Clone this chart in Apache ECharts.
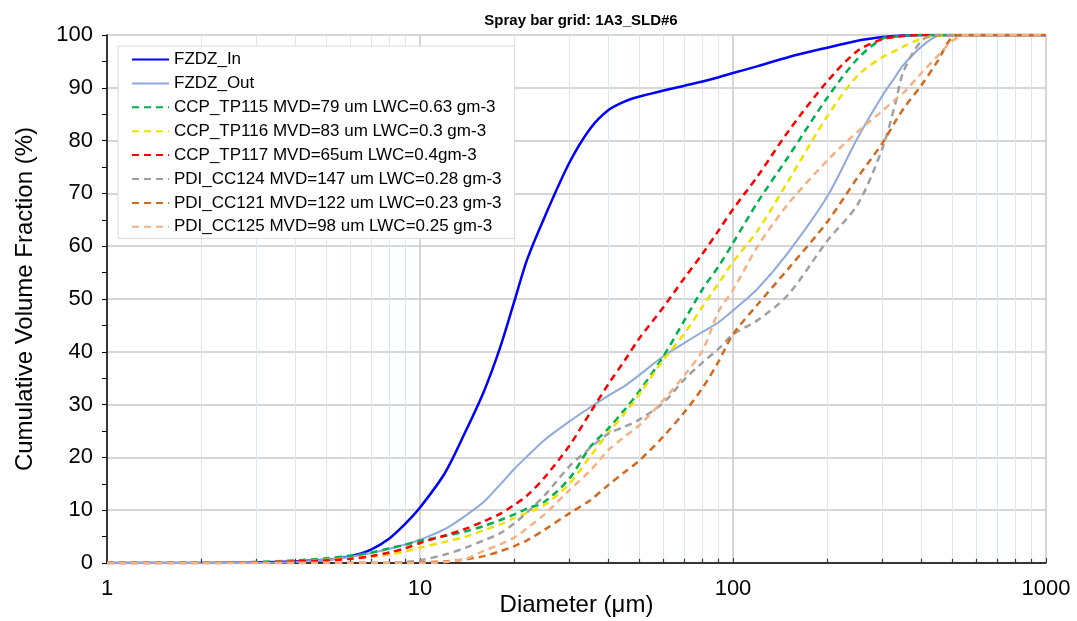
<!DOCTYPE html>
<html>
<head>
<meta charset="utf-8">
<script src="https://cdn.jsdelivr.net/npm/echarts@6/dist/echarts.min.js"></script>
<style>
html,body{margin:0;padding:0;background:#fff;}
#chart{width:1077px;height:621px;}
</style>
</head>
<body>
<div id="chart"></div>
<script>
// Diameters (um), shared by all series
const diameters = [1,2,3,4,5,6,7,8,9,10,12,14,16,18,20,22,25,30,35,40,45,50,60,70,80,90,100,120,150,200,250,300,330,350,400,450,500,550,600,700,1000];

const fzdzIn   = [0,0,0.1,0.3,0.6,1.3,2.6,4.7,7.5,10.5,17,25,32.5,40.7,49.5,57.5,65.5,75.8,82.3,85.8,87.4,88.3,89.5,90.4,91.2,92,92.8,94.1,95.8,97.6,98.9,99.6,99.8,99.9,100,100,100,100,100,100,100];
const fzdzOut  = [0,0,0,0.2,0.6,1.2,1.9,2.7,3.5,4.4,6.4,9,11.6,14.8,17.8,20.2,23.3,26.8,29.5,31.7,33.5,35.5,39.2,41.7,43.8,45.6,47.8,52,58.8,69.4,80.5,88.5,92.1,94.3,97.8,99.8,100,100,100,100,100];
const tp115    = [0,0.05,0.2,0.5,0.9,1.4,2.0,2.8,3.5,4.2,5.1,6,7,8.1,9.2,10.3,11.6,16,22,25.5,29,32.4,39.2,46,51.9,56.2,60.6,68.4,76.9,88.1,95.5,99.3,99.7,99.9,100,100,100,100,100,100,100];
const tp116    = [0,0,0.1,0.3,0.6,0.9,1.2,1.6,2.2,2.9,4,5,6.2,7.3,8.5,9.5,11,15,20.2,24.7,28.3,31.8,38.5,43.5,48.6,53,57,63,72.3,84.6,92.3,95.8,97,97.8,99.3,99.9,100,100,100,100,100];
const tp117    = [0,0,0.1,0.3,0.5,0.8,1.3,2.0,2.8,3.8,5.2,6.5,7.9,9.3,11,12.8,16.2,22.2,28.5,33.9,38.3,42.4,48.5,54,58.6,63,67,73.3,81.7,91.2,97,99.2,99.6,99.8,100,100,100,100,100,100,100];
const cc124    = [0,0,0,0,0,0,0,0.05,0.2,0.5,1.6,2.9,4.3,5.6,7.5,9.6,12.8,18.3,21.8,24.5,25.8,27.1,30.4,34.8,38,40.6,43.3,46,50.8,61,67.9,78.5,87,93,98.9,100,100,100,100,100,100];
const cc121    = [0,0,0,0,0,0,0,0,0,0.1,0.3,0.7,1.3,2.2,3.2,4.3,6.3,9.4,11.9,14.8,17.2,19.3,24,28.6,33.2,38.2,43.3,49,55.7,64.6,73,79.5,83.6,86,90.5,95,99.5,100,100,100,100];
const cc125    = [0,0,0,0,0,0,0,0,0,0,0.2,0.8,2.3,3.5,4.8,6.6,9.2,13.8,17.5,21.4,23.9,26,30.9,35.6,40.3,47.7,51.7,60,68,76.2,81.7,85.6,87.8,89,92.8,96,98.8,100,100,100,100];

const seriesNames = [
  'FZDZ_In',
  'FZDZ_Out',
  'CCP_TP115 MVD=79 um LWC=0.63 gm-3',
  'CCP_TP116 MVD=83 um LWC=0.3 gm-3',
  'CCP_TP117 MVD=65um LWC=0.4gm-3',
  'PDI_CC124 MVD=147 um LWC=0.28 gm-3',
  'PDI_CC121 MVD=122 um LWC=0.23 gm-3',
  'PDI_CC125 MVD=98 um LWC=0.25 gm-3'
];
const seriesValues = [fzdzIn, fzdzOut, tp115, tp116, tp117, cc124, cc121, cc125];
const seriesColors = ['#0000ff','#8eaadb','#00b050','#f0e000','#ff0000','#a0a0a0','#d2691e','#f4b183'];
const seriesDashed = [false,false,true,true,true,true,true,true];

// Minor grid positions on the log axis
const minorX = [2,3,4,5,6,7,8,9,20,30,40,50,60,70,80,90,200,300,400,500,600,700,800,900];

const FONT = 'Liberation Sans, Arial, sans-serif';

const series = seriesNames.map((name, i) => ({
  name: name,
  type: 'line',
  data: diameters.map((d, k) => [d, seriesValues[i][k]]),
  showSymbol: false,
  symbol: 'none',
  smooth: 0.3,
  z: 3 + i,
  lineStyle: {
    color: seriesColors[i],
    width: seriesDashed[i] ? 2.5 : (i === 0 ? 2.5 : 2),
    type: seriesDashed[i] ? [7, 5] : 'solid'
  },
  itemStyle: { color: seriesColors[i] }
}));

// minor vertical gridlines
series.unshift({
  name: '_grid',
  type: 'line',
  data: [],
  silent: true,
  z: 1,
  markLine: {
    silent: true,
    symbol: ['none','none'],
    animation: false,
    z: 1,
    label: { show: false },
    lineStyle: { color: '#dde5f3', width: 1, type: 'solid' },
    data: minorX.map(v => ({ xAxis: v }))
  }
});
// minor ticks on the x axis
series.unshift({
  name: '_ticks',
  type: 'line',
  data: [],
  silent: true,
  z: 2,
  markLine: {
    silent: true,
    symbol: ['none','none'],
    animation: false,
    label: { show: false },
    lineStyle: { color: '#333', width: 1.2, type: 'solid' },
    data: minorX.map(v => [{ coord: [v, 0] }, { coord: [v, 0.8] }])
  }
});

const chart = echarts.init(document.getElementById('chart'), null, { renderer: 'canvas' });
chart.setOption({
  animation: false,
  backgroundColor: '#ffffff',
  title: {
    text: 'Spray bar grid: 1A3_SLD#6',
    left: 576,
    textAlign: 'center',
    top: 8,
    textStyle: { fontFamily: FONT, fontSize: 15, fontWeight: 'bold', color: '#000' }
  },
  grid: { left: 107, right: 31, top: 35, bottom: 58, containLabel: false, outerBoundsMode: 'none' },
  legend: {
    data: seriesNames,
    orient: 'vertical',
    left: 118,
    top: 46,
    z: 20,
    itemWidth: 37,
    itemHeight: 17,
    itemGap: 6.9,
    padding: [5, 13, 3, 13],
    backgroundColor: '#ffffff',
    borderColor: '#d9d9d9',
    borderWidth: 1,
    itemStyle: { opacity: 0 },
    textStyle: { fontFamily: FONT, fontSize: 17, color: '#000' }
  },
  xAxis: {
    type: 'log',
    logBase: 10,
    min: 1,
    max: 1000,
    name: 'Diameter (\u03bcm)',
    nameLocation: 'middle',
    nameGap: 30,
    nameMoveOverlap: false,
    nameTextStyle: { fontFamily: FONT, fontSize: 24, color: '#000' },
    axisLine: { show: true, onZero: false, lineStyle: { color: '#000', width: 1.5 } },
    axisTick: { show: true, inside: true, length: 5, lineStyle: { color: '#333' } },
    axisLabel: { fontFamily: FONT, fontSize: 22, color: '#000', margin: 15, formatter: v => String(v) },
    splitLine: { show: true, lineStyle: { color: '#c8c8c8', width: 1.5 } },
    minorTick: { show: false },
    minorSplitLine: { show: false }
  },
  yAxis: {
    type: 'value',
    min: 0,
    max: 100,
    interval: 10,
    name: 'Cumulative Volume Fraction (%)',
    nameLocation: 'middle',
    nameRotate: 90,
    nameGap: 70,
    nameMoveOverlap: false,
    nameTextStyle: { fontFamily: FONT, fontSize: 24, color: '#000' },
    axisLine: { show: true, lineStyle: { color: '#000', width: 1.5 } },
    axisTick: { show: true, inside: false, length: 5, lineStyle: { color: '#000' } },
    minorTick: { show: true, splitNumber: 2, length: 5, lineStyle: { color: '#000' } },
    axisLabel: { fontFamily: FONT, fontSize: 22, color: '#000', margin: 14 },
    splitLine: { show: true, lineStyle: { color: '#c8c8c8', width: 1.5 } }
  },
  series: series
});
</script>
</body>
</html>
